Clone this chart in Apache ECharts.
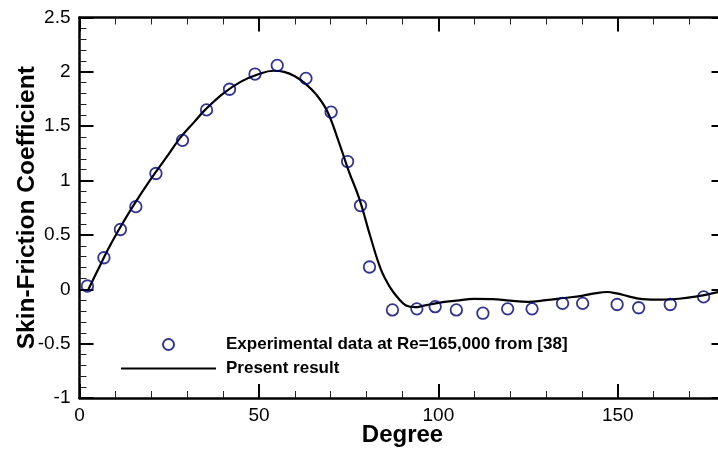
<!DOCTYPE html>
<html>
<head>
<meta charset="utf-8">
<script src="https://cdn.jsdelivr.net/npm/echarts@6/dist/echarts.min.js"></script>
<style>
html,body{margin:0;padding:0;background:#fff;}
#chart{width:718px;height:450px;}
</style>
</head>
<body>
<div id="chart"></div>
<script>
// Experimental data (degree, skin-friction coefficient)
const expDeg = [2.2, 6.8, 11.4, 15.7, 21.3, 28.7, 35.4, 41.8, 48.9, 55.1, 63.1, 70.1, 74.7, 78.3, 80.8,
                87.2, 94.0, 99.1, 105.0, 112.4, 119.3, 126.1, 134.6, 140.2, 149.8, 155.8, 164.6, 173.9];
const expCf  = [0.03, 0.29, 0.55, 0.76, 1.065, 1.37, 1.65, 1.84, 1.98, 2.06, 1.94, 1.63, 1.175, 0.77, 0.205,
                -0.19, -0.18, -0.16, -0.19, -0.22, -0.18, -0.18, -0.13, -0.13, -0.14, -0.17, -0.14, -0.07];

// Present result (computed curve)
const simDeg = [2.5, 5, 8, 11, 15, 20, 25, 28, 32, 35, 40, 45, 50, 54, 57, 60, 63, 66, 69, 72, 75, 78, 81, 84,
                86.5, 89, 91, 93.5, 96, 100, 105, 110, 115, 120, 125, 130, 135, 140, 144, 147, 150, 153, 157,
                162, 167, 172, 176, 180];
const simCf  = [0.0, 0.17, 0.37, 0.55, 0.77, 1.02, 1.25, 1.39, 1.54, 1.65, 1.80, 1.91, 1.98, 2.01, 2.00, 1.96,
                1.89, 1.79, 1.64, 1.38, 1.09, 0.83, 0.49, 0.18, 0.02, -0.09, -0.15, -0.165, -0.15, -0.125,
                -0.105, -0.088, -0.09, -0.105, -0.115, -0.10, -0.08, -0.06, -0.035, -0.025, -0.04, -0.065,
                -0.09, -0.095, -0.087, -0.065, -0.04, -0.01];

const xTicks = {min: 0, max: 180, interval: 50};
const yTicks = {min: -1, max: 2.5, interval: 0.5};

const legendNames = ['Experimental data at Re=165,000 from [38]', 'Present result'];
const xTitle = 'Degree';
const yTitle = 'Skin-Friction Coefficient';

const FONT = '"Liberation Sans", Arial, sans-serif';

const expData = expDeg.map((d, i) => [d, expCf[i]]);
const simData = simDeg.map((d, i) => [d, simCf[i]]);

const axisLine = {show: true, onZero: false, lineStyle: {color: '#000', width: 2.5}};
const majorTick = {show: true, inside: true, length: 14, lineStyle: {color: '#000', width: 2}};
const minorTick = {show: true, splitNumber: 5, length: 7, lineStyle: {color: '#222', width: 1}};

const chart = echarts.init(document.getElementById('chart'), null, {renderer: 'canvas'});
chart.setOption({
  animation: false,
  backgroundColor: '#fff',
  grid: {left: 79.5, top: 17.5, bottom: 52, right: -7.5, containLabel: false, outerBoundsMode: 'none'},
  xAxis: [
    {
      type: 'value', position: 'bottom', min: xTicks.min, max: xTicks.max, interval: xTicks.interval,
      name: xTitle, nameLocation: 'middle', nameGap: 25, nameMoveOverlap: false,
      nameTextStyle: {fontFamily: FONT, fontSize: 24, fontWeight: 'bold', color: '#000'},
      axisLine: axisLine, axisTick: majorTick, minorTick: minorTick,
      axisLabel: {fontFamily: FONT, fontSize: 19, color: '#000', margin: 8, showMaxLabel: false},
      splitLine: {show: false}, minorSplitLine: {show: false}
    },
    {
      type: 'value', position: 'top', min: xTicks.min, max: xTicks.max, interval: xTicks.interval,
      axisLine: axisLine, axisTick: majorTick, minorTick: minorTick,
      axisLabel: {show: false}, splitLine: {show: false}
    }
  ],
  yAxis: [
    {
      type: 'value', position: 'left', min: yTicks.min, max: yTicks.max, interval: yTicks.interval,
      name: yTitle, nameLocation: 'middle', nameGap: 40, nameRotate: 90, nameMoveOverlap: false,
      nameTextStyle: {fontFamily: FONT, fontSize: 24.5, fontWeight: 'bold', color: '#000'},
      axisLine: axisLine, axisTick: majorTick, minorTick: minorTick,
      axisLabel: {fontFamily: FONT, fontSize: 19, color: '#000', margin: 9},
      splitLine: {show: false}
    },
    {
      type: 'value', position: 'right', min: yTicks.min, max: yTicks.max, interval: yTicks.interval,
      axisLine: axisLine, axisTick: majorTick, minorTick: minorTick,
      axisLabel: {show: false}, splitLine: {show: false}
    }
  ],
  legend: {
    orient: 'vertical', left: 115, top: 331, itemWidth: 95, itemHeight: 11, itemGap: 7,
    data: [
      {name: legendNames[0]},
      {name: legendNames[1], itemStyle: {color: 'rgba(0,0,0,0)', borderWidth: 0, opacity: 0}}
    ],
    textStyle: {fontFamily: FONT, fontSize: 17, fontWeight: 'bold', color: '#000', padding: [0, 0, 0, 5]}
  },
  series: [
    {
      name: legendNames[0], type: 'scatter', data: expData, symbol: 'circle', symbolSize: 11.5,
      itemStyle: {color: 'rgba(255,255,255,0)', borderColor: '#000078', borderWidth: 1.8},
      z: 3
    },
    {
      name: legendNames[1], type: 'line', data: simData, symbol: 'none', smooth: 0.4,
      itemStyle: {color: '#000'},
      lineStyle: {color: '#000', width: 2.2}, z: 2
    }
  ]
});
</script>
</body>
</html>
